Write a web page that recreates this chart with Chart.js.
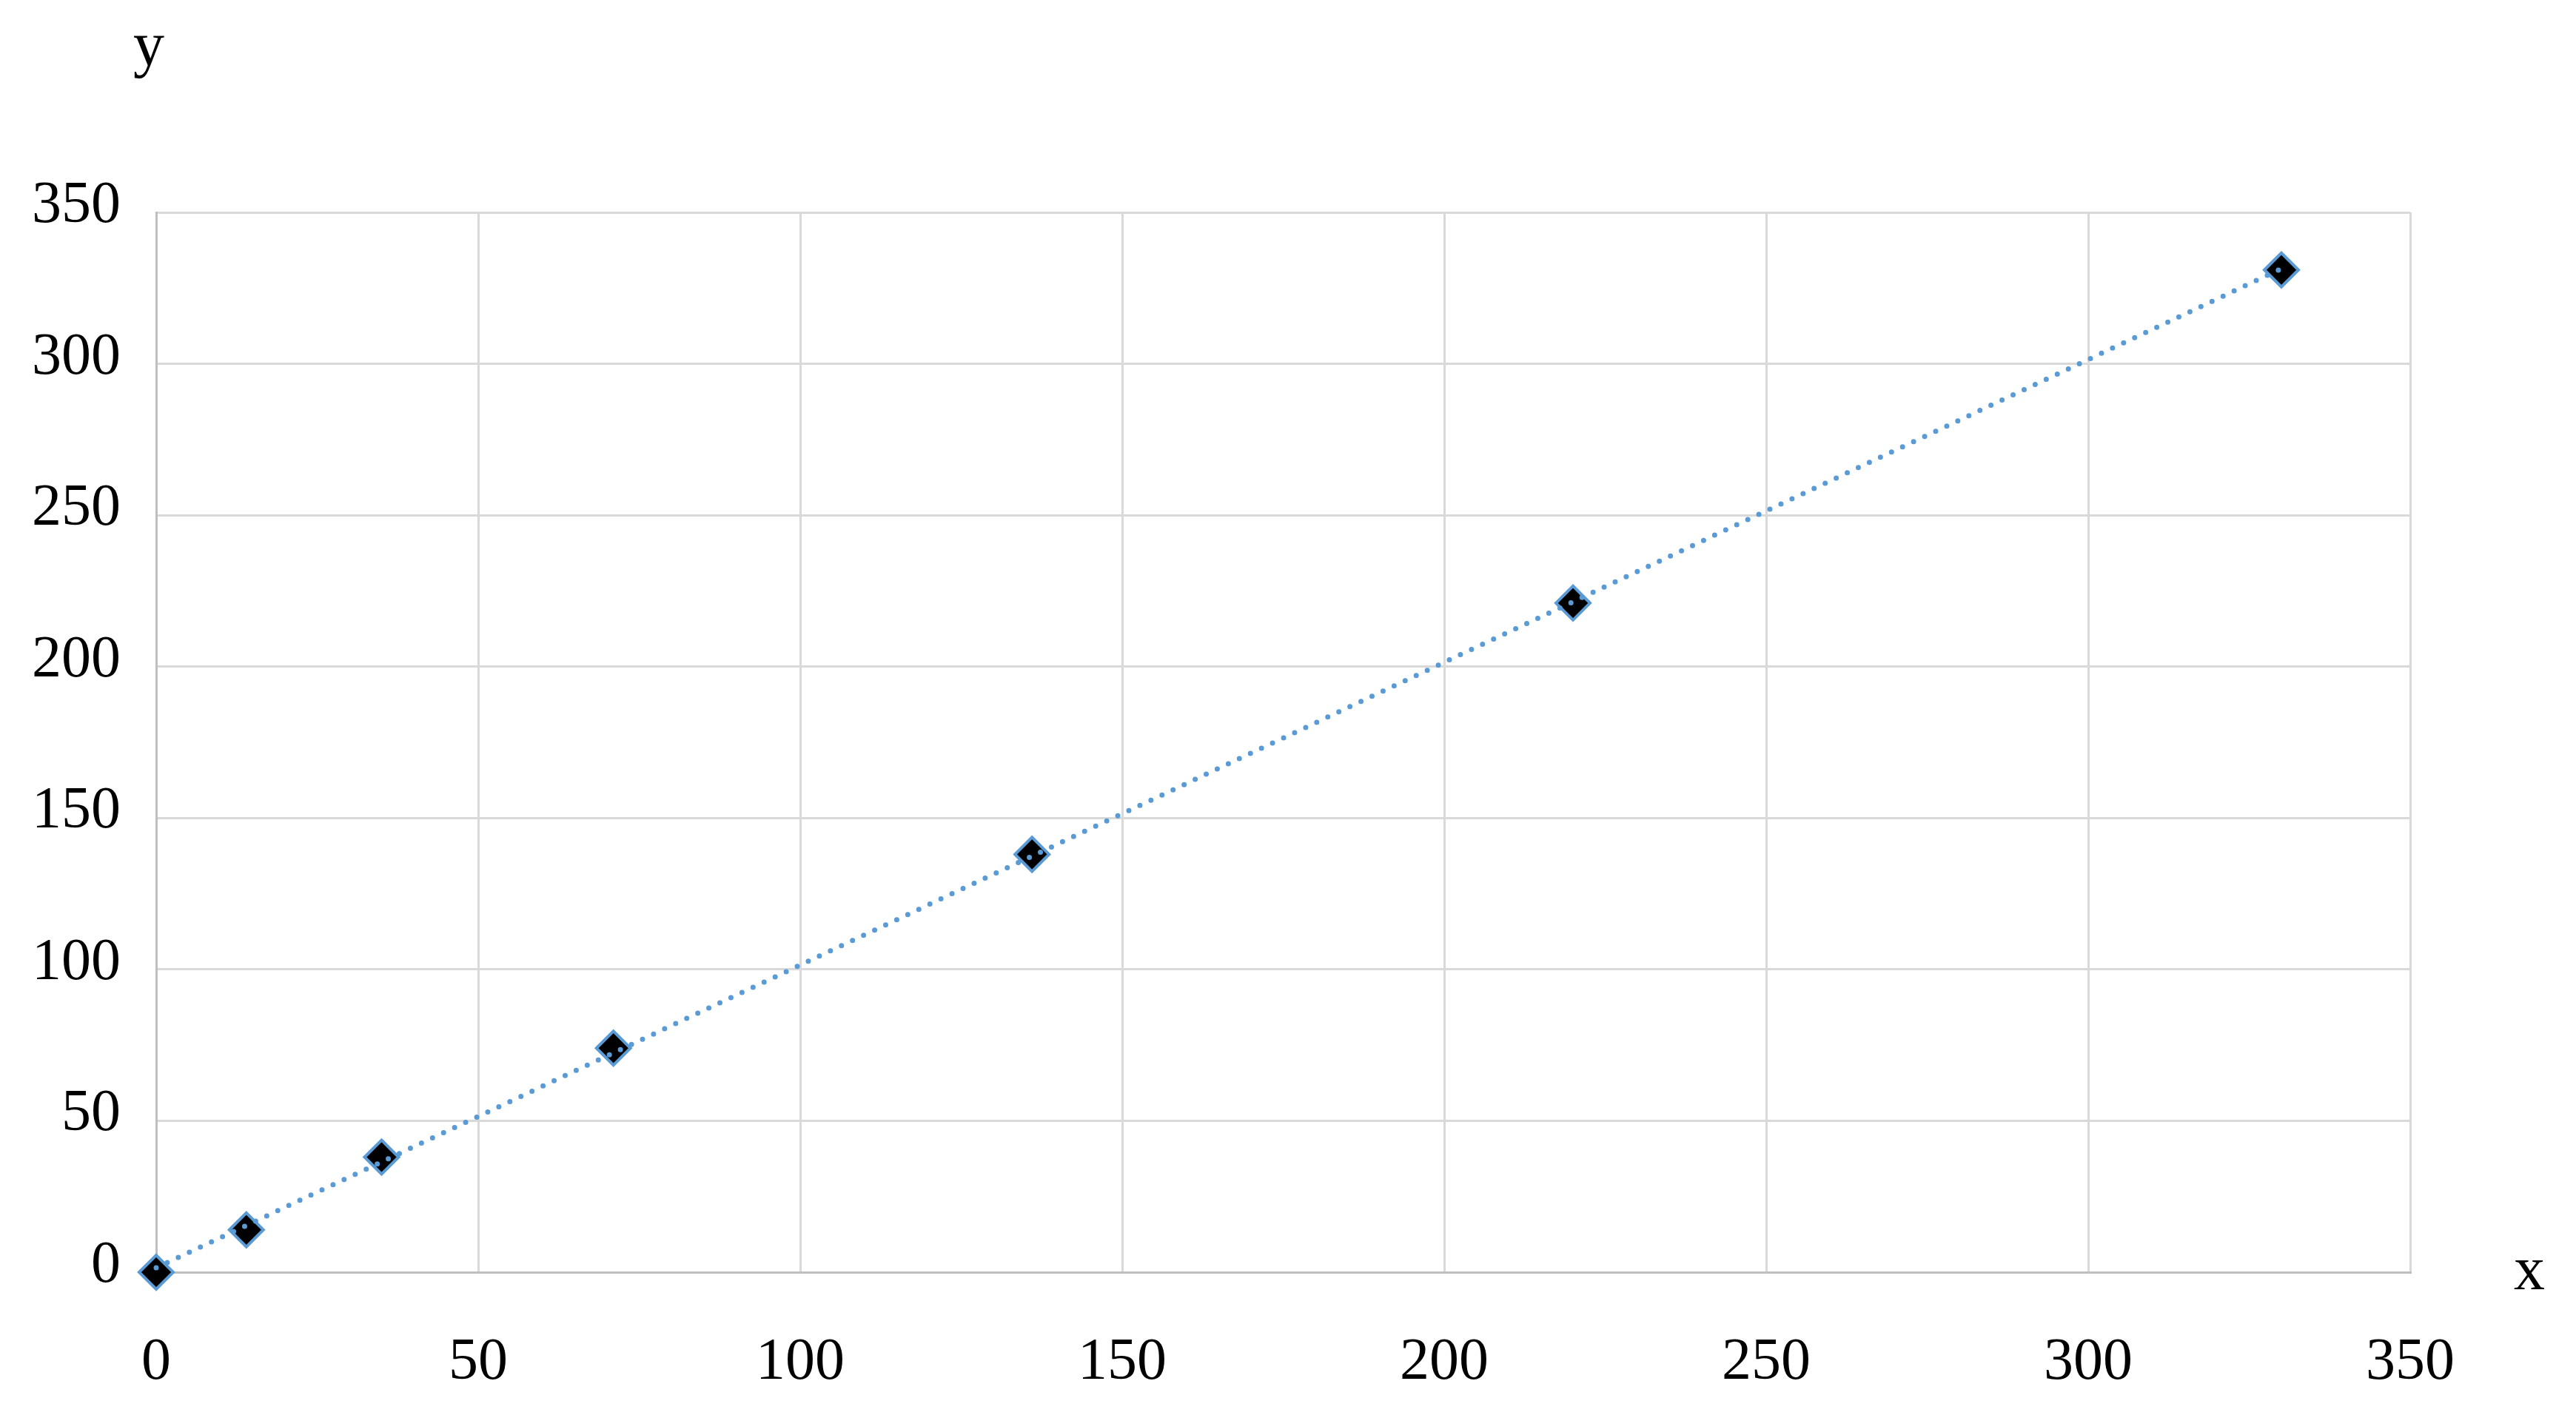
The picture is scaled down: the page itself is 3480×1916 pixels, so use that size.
<!DOCTYPE html>
<html>
<head>
<meta charset="utf-8">
<script src="https://cdn.jsdelivr.net/npm/chart.js@4.4.1/dist/chart.umd.min.js"></script>
<style>
  html, body { margin: 0; padding: 0; background: #fff; }
  #wrap { width: 3480px; height: 1916px; }
</style>
</head>
<body>
<div id="wrap"><canvas id="xyChart"></canvas></div>
<script>
// values
const xValues = [0, 14, 35, 71, 136, 220, 330];
const yValues = [0, 14, 38, 74, 138, 221, 331];
const xTicks = [0, 50, 100, 150, 200, 250, 300, 350];
const yTicks = [0, 50, 100, 150, 200, 250, 300, 350];
const xTitle = 'x';
const yTitle = 'y';

const points = xValues.map((x, i) => ({ x: x, y: yValues[i] }));

// linear trendline (least squares over the same points)
const n = xValues.length;
const mx = xValues.reduce((a, b) => a + b, 0) / n;
const my = yValues.reduce((a, b) => a + b, 0) / n;
let sxy = 0, sxx = 0;
for (let i = 0; i < n; i++) {
    sxy += (xValues[i] - mx) * (yValues[i] - my);
    sxx += (xValues[i] - mx) * (xValues[i] - mx);
}
const slope = sxy / sxx;
const icpt = my - slope * mx;
const xLo = Math.min(...xValues), xHi = Math.max(...xValues);
const trend = [{ x: xLo, y: icpt + slope * xLo }, { x: xHi, y: icpt + slope * xHi }];

const FONT = "'Liberation Serif', 'DejaVu Serif', serif";

const axisTitles = {
    id: 'axisTitles',
    afterDraw(chart) {
        const { ctx, chartArea } = chart;
        ctx.save();
        ctx.fillStyle = '#000';
        ctx.font = '84px ' + FONT;
        ctx.textAlign = 'center';
        ctx.textBaseline = 'alphabetic';
        ctx.fillText(yTitle, chartArea.left - 10, chartArea.top - 199);
        ctx.fillText(xTitle, chartArea.right + 161, chartArea.bottom + 23);
        ctx.restore();
    }
};

const ctx = document.getElementById('xyChart');

new Chart(ctx, {
    type: 'scatter',
    data: {
        datasets: [{
            label: 'trend',
            data: trend,
            showLine: true,
            borderColor: '#5b9bd5',
            borderWidth: 7,
            borderDash: [0, 16.5],
            borderCapStyle: 'round',
            pointRadius: 0,
            clip: false,
            order: 0
        }, {
            label: 'y',
            data: points,
            showLine: false,
            pointStyle: 'rectRot',
            pointRadius: 23,
            pointBackgroundColor: '#000',
            pointBorderColor: '#5b9bd5',
            pointBorderWidth: 4,
            clip: false,
            order: 1
        }]
    },
    options: {
        responsive: true,
        maintainAspectRatio: false,
        animation: false,
        layout: { padding: { top: 287, right: 224, left: 0, bottom: 0 } },
        plugins: {
            legend: { display: false },
            tooltip: { enabled: false }
        },
        scales: {
            x: {
                type: 'linear',
                min: xTicks[0],
                max: xTicks[xTicks.length - 1],
                afterBuildTicks: (s) => { s.ticks = xTicks.map(v => ({ value: v })); },
                afterFit: (s) => { s.height = 197; },
                grid: { color: '#d9d9d9', lineWidth: 3, drawTicks: false },
                border: { color: '#bfbfbf', width: 3 },
                ticks: { color: '#000', font: { family: FONT, size: 80 }, padding: 75, maxRotation: 0 }
            },
            y: {
                type: 'linear',
                min: yTicks[0],
                max: yTicks[yTicks.length - 1],
                afterBuildTicks: (s) => { s.ticks = yTicks.map(v => ({ value: v })); },
                afterFit: (s) => { s.width = 211; },
                grid: { color: '#d9d9d9', lineWidth: 3, drawTicks: false },
                border: { color: '#bfbfbf', width: 3 },
                ticks: { color: '#000', font: { family: FONT, size: 80 }, padding: 48, labelOffset: -8 }
            }
        }
    },
    plugins: [axisTitles]
});
</script>
</body>
</html>
